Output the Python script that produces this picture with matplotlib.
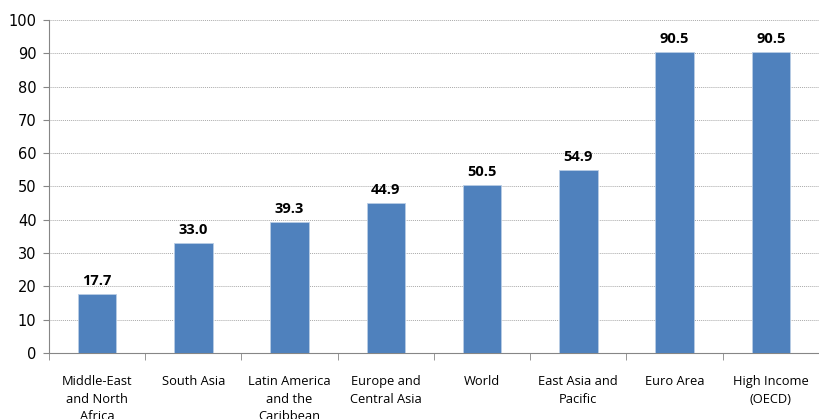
import numpy as np
import matplotlib.pyplot as plt

regions = ["Middle-East\nand North\nAfrica", "South Asia", "Latin America\nand the\nCaribbean",
           "Europe and\nCentral Asia", "World", "East Asia and\nPacific", "Euro Area",
           "High Income\n(OECD)"]
values = [17.7, 33.0, 39.3, 44.9, 50.5, 54.9, 90.5, 90.5]

bar_color = "#4F81BD"
axis_color = "#868686"

fig = plt.figure(figsize=(8.19, 4.19), dpi=100)
ax = fig.add_axes([0.0598, 0.1575, 0.9402, 0.7948])

x = np.arange(len(regions))
ax.bar(x, values, width=0.4, color=bar_color, edgecolor="#B9CDE5", linewidth=0.6, zorder=3)

for xi, v in zip(x, values):
    ax.text(xi, v + 1.8, f"{v:.1f}", ha="center", va="bottom",
            fontsize=10.5, fontweight="bold", family="Open Sans", zorder=4)

ax.set_xlim(-0.5, 7.38)
ax.set_ylim(0, 100)
ax.set_yticks(np.arange(0, 101, 10))
ax.yaxis.grid(True, linestyle=(0, (1, 1)), color="#AAAAAA", linewidth=0.7, zorder=0)

# category labels sit under each bar, ticks go on the category boundaries
ax.set_xticks(x)
ax.set_xticklabels(regions, fontsize=9.3, family="Open Sans", linespacing=1.45)
ax.set_xticks(np.arange(-0.5, len(regions), 1.0), minor=True)
ax.tick_params(axis="x", which="major", length=0, pad=16)
ax.tick_params(axis="x", which="minor", length=5, color=axis_color, direction="out")
ax.tick_params(axis="y", length=4, color=axis_color, labelsize=10.5, pad=5)
for lbl in ax.get_xticklabels():
    lbl.set_verticalalignment("top")

for side in ["top", "right"]:
    ax.spines[side].set_visible(False)
ax.spines["left"].set_color(axis_color)
ax.spines["bottom"].set_color(axis_color)

fig.savefig("out.png", dpi=100)
